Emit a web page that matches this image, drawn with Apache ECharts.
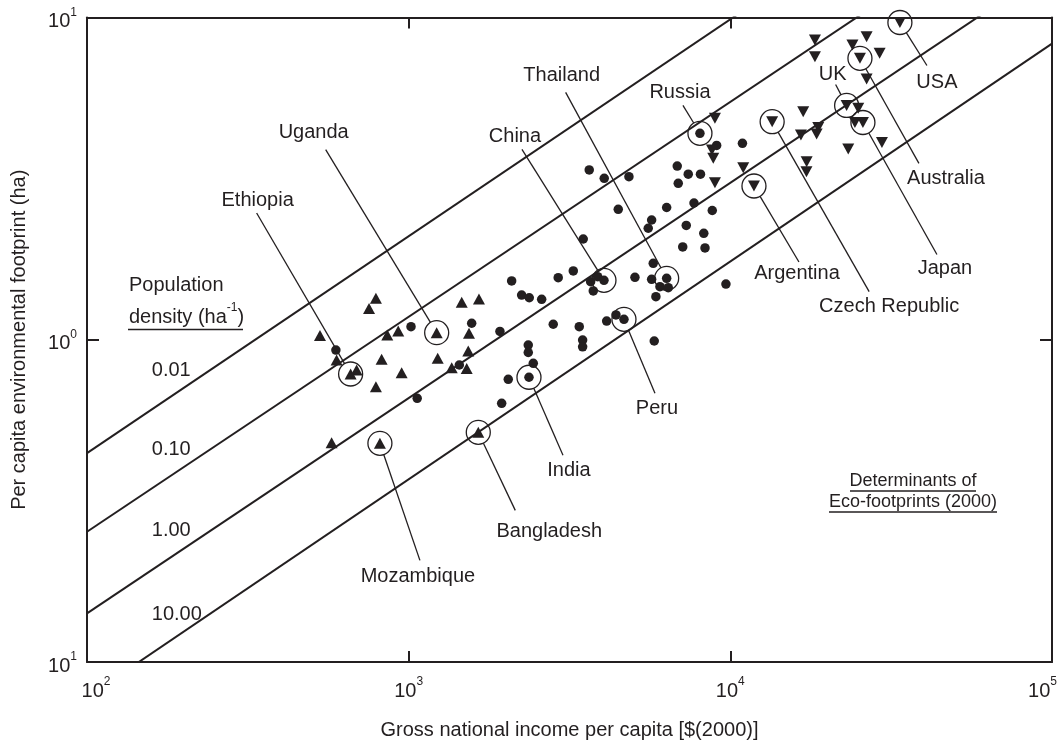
<!DOCTYPE html>
<html>
<head>
<meta charset="utf-8">
<script src="https://cdn.jsdelivr.net/npm/echarts@6/dist/echarts.min.js"></script>
<style>
  html, body { margin: 0; padding: 0; background: #ffffff; }
  #chart { width: 1063px; height: 749px; }
</style>
</head>
<body>
<div id="chart"></div>
<script>
// ---- tick labels (powers of ten, exponent printed as superscript) ----
const xTickValues = [100, 1000, 10000, 100000];
const xTickExponents = ['2', '3', '4', '5'];
const yTickValues = [0.1, 1, 10];
const yTickExponents = ['1', '0', '1'];

// ---- population-density reference lines: footprint = a * (GNI/100)^b ----
const densityLabels = ['0.01', '0.10', '1.00', '10.00'];
const densityFootprintAt100 = [0.445, 0.2536, 0.1416, 0.0778];
const densitySlopes = [0.673, 0.667, 0.668, 0.676];

// ---- countries: [GNI per capita $, footprint ha] ----
// low income (up triangles)
const lowIncome = [
  [530, 1.03], [597, 0.865], [689, 0.806], [753, 1.25], [791, 1.345], [824, 0.87],
  [791, 0.715], [858, 1.034], [928, 1.064], [951, 0.79], [1231, 0.876], [1361, 0.819],
  [1462, 1.307], [1654, 1.339], [1515, 0.815], [1532, 0.923], [1540, 1.047], [576, 0.479]
];
// middle income (dots)
const middleIncome = [
  [594, 0.929], [1017, 1.098], [1570, 1.125], [1437, 0.835], [1063, 0.658], [2090, 1.522],
  [2245, 1.376], [2371, 1.35], [2591, 1.335], [2815, 1.117], [1922, 1.061], [2354, 0.963],
  [2354, 0.913], [2440, 0.845], [2040, 0.754], [1946, 0.635], [3642, 3.364], [4055, 3.17],
  [4839, 3.206], [6838, 3.46], [7399, 3.265], [8075, 3.265], [6888, 3.059], [4483, 2.54],
  [6339, 2.573], [7709, 2.657], [8787, 2.518], [5693, 2.353], [5556, 2.218], [7294, 2.263],
  [8269, 2.14], [3489, 2.054], [7112, 1.941], [8342, 1.927], [5759, 1.727], [3249, 1.635],
  [2917, 1.558], [3679, 1.514], [3868, 1.569], [3749, 1.417], [5052, 1.562], [5693, 1.54],
  [6042, 1.461], [6412, 1.451], [5870, 1.36], [9690, 1.489], [3391, 1.098], [4126, 1.143],
  [4410, 1.194], [5800, 0.991], [3474, 0.998], [3474, 0.951], [9067, 4.008], [10905, 4.071]
];
// high income (down triangles)
const highIncome = [
  [8956, 4.867], [8767, 3.881], [8850, 3.657], [8956, 3.072], [10967, 3.42], [16848, 5.103],
  [16575, 4.32], [18763, 4.558], [18549, 4.351], [17268, 3.569], [17244, 3.323], [18323, 8.514],
  [18323, 7.556], [24981, 5.228], [24395, 4.723], [23257, 3.908], [29599, 4.094], [26526, 8.718],
  [23967, 8.216], [29113, 7.742], [26526, 6.445]
];

// named countries (circled)
const countryNames = ['Ethiopia', 'Uganda', 'Mozambique', 'Bangladesh', 'China', 'Thailand',
  'India', 'Peru', 'Russia', 'Argentina', 'Czech Republic', 'UK', 'Japan', 'Australia', 'USA'];
const countryGni = [660, 1222, 814, 1646, 4047, 6339, 2366, 4670, 8045, 11843, 13490, 22989, 25834, 25290, 33664];
const countryFootprint = [0.783, 1.052, 0.477, 0.516, 1.529, 1.551, 0.765, 1.157, 4.372, 3.0, 4.75, 5.334, 4.723, 7.47, 9.649];
const countryGroup = ['low', 'low', 'low', 'low', 'middle', 'middle', 'middle', 'middle', 'middle',
  'high', 'high', 'high', 'high', 'high', 'high'];

// ---- styling / layout ----
const INK = '#231f20';
const FONT = '"Liberation Sans", Arial, Helvetica, sans-serif';
const CALLOUT_R = 12;
// label placement relative to the circled point (pixels): text centre and leader-line end
const calloutLayout = {
  'Ethiopia':       { text: [-93, -174], line: [-94, -161] },
  'Uganda':         { text: [-123, -200], line: [-111, -183] },
  'China':          { text: [-89, -144], line: [-82, -131] },
  'Thailand':       { text: [-105, -203], line: [-101, -186] },
  'Russia':         { text: [-20, -41], line: [-17, -28] },
  'UK':             { text: [-14, -31], line: [-11, -21] },
  'USA':            { text: [37, 60], line: [27, 43] },
  'Australia':      { text: [86, 120], line: [59, 105] },
  'Japan':          { text: [82, 146], line: [74, 132] },
  'Czech Republic': { text: [117, 185], line: [97, 170] },
  'Argentina':      { text: [43, 87], line: [45, 76] },
  'Peru':           { text: [33, 89], line: [31, 74] },
  'India':          { text: [40, 93], line: [34, 78] },
  'Bangladesh':     { text: [71, 99], line: [37, 78] },
  'Mozambique':     { text: [38, 133], line: [40, 117] }
};
const densityTagGni = 159;

function groupPoints(list, group) {
  const pts = list.slice();
  countryNames.forEach((n, i) => {
    if (countryGroup[i] === group) pts.push([countryGni[i], countryFootprint[i]]);
  });
  return pts;
}
function densityValue(i, gni) {
  return densityFootprintAt100[i] * Math.pow(gni / 100, densitySlopes[i]);
}
function tickIndex(values, v) {
  return values.findIndex(t => Math.abs(Math.log10(t) - Math.log10(v)) < 1e-6);
}

const richBase = {
  b:  { fontSize: 20, lineHeight: 22, padding: [8, 0, 0, 0], fontFamily: FONT, color: INK },
  bL: { fontSize: 20, lineHeight: 22, padding: [8, 0, 0, 18], fontFamily: FONT, color: INK },
  s:  { fontSize: 12, lineHeight: 14, verticalAlign: 'top', fontFamily: FONT, color: INK },
  sR: { fontSize: 12, lineHeight: 14, verticalAlign: 'top', padding: [0, 19, 0, 0], fontFamily: FONT, color: INK }
};

const chart = echarts.init(document.getElementById('chart'), null, { renderer: 'canvas' });

const lineSeries = densityLabels.map((lab, i) => ({
  name: 'density ' + lab,
  type: 'line',
  xAxisIndex: 0, yAxisIndex: 0,
  data: [[100, densityValue(i, 100)], [100000, densityValue(i, 100000)]],
  showSymbol: false,
  symbol: 'none',
  clip: true,
  silent: true,
  lineStyle: { color: INK, width: 2, opacity: 1 },
  z: 2
}));

const tagSeries = {
  type: 'scatter',
  data: densityLabels.map((lab, i) => [densityTagGni, densityValue(i, densityTagGni), i]),
  symbolSize: 0,
  silent: true,
  itemStyle: { opacity: 1 },
  label: {
    show: true,
    position: 'inside',
    align: 'left',
    verticalAlign: 'middle',
    offset: [0, -39],
    formatter: p => densityLabels[p.value[2]],
    fontSize: 20,
    fontFamily: FONT,
    color: INK,
    opacity: 1
  },
  z: 3
};

const markerCommon = { type: 'scatter', silent: true, itemStyle: { color: INK, opacity: 1 }, z: 4 };

const option = {
  animation: false,
  backgroundColor: '#ffffff',
  grid: { left: 87, right: 11, top: 17.5, bottom: 87, containLabel: false, outerBoundsMode: 'none' },
  xAxis: [
    {
      type: 'log', logBase: 10, min: 100, max: 100000, position: 'bottom',
      name: 'Gross national income per capita [$(2000)]',
      nameLocation: 'middle', nameGap: 58,
      nameTextStyle: { fontSize: 20, fontFamily: FONT, color: INK },
      axisLine: { show: true, lineStyle: { color: INK, width: 2 } },
      axisTick: { show: true, inside: true, length: 11, lineStyle: { color: INK, width: 2 } },
      minorTick: { show: false },
      splitLine: { show: false },
      axisLabel: {
        show: true, margin: 14, showMinLabel: true, showMaxLabel: true,
        formatter: v => {
          const i = tickIndex(xTickValues, v);
          if (i < 0) return '';
          const b = i === 0 ? 'bL' : 'b';
          const s = i === xTickValues.length - 1 ? 'sR' : 's';
          return '{' + b + '|10}{' + s + '|' + xTickExponents[i] + '}';
        },
        rich: richBase
      }
    },
    {
      type: 'log', logBase: 10, min: 100, max: 100000, position: 'top',
      axisLine: { show: true, lineStyle: { color: INK, width: 2 } },
      axisTick: { show: true, inside: true, length: 11, lineStyle: { color: INK, width: 2 } },
      splitLine: { show: false },
      axisLabel: { show: false }
    }
  ],
  yAxis: [
    {
      type: 'log', logBase: 10, min: 0.1, max: 10, position: 'left',
      name: 'Per capita environmental footprint (ha)',
      nameLocation: 'middle', nameGap: 58,
      nameTextStyle: { fontSize: 20, fontFamily: FONT, color: INK },
      axisLine: { show: true, lineStyle: { color: INK, width: 2 } },
      axisTick: { show: true, inside: true, length: 12, lineStyle: { color: INK, width: 2 } },
      splitLine: { show: false },
      axisLabel: {
        show: true, margin: 10, showMinLabel: true, showMaxLabel: true,
        formatter: v => {
          const i = tickIndex(yTickValues, v);
          if (i < 0) return '';
          return '{b|10}{s|' + yTickExponents[i] + '}';
        },
        rich: richBase
      }
    },
    {
      type: 'log', logBase: 10, min: 0.1, max: 10, position: 'right',
      axisLine: { show: true, lineStyle: { color: INK, width: 2 } },
      axisTick: { show: true, inside: true, length: 12, lineStyle: { color: INK, width: 2 } },
      splitLine: { show: false },
      axisLabel: { show: false }
    }
  ],
  series: [
    ...lineSeries,
    tagSeries,
    Object.assign({}, markerCommon, { name: 'low income', data: groupPoints(lowIncome, 'low'), symbol: 'triangle', symbolSize: [12, 11] }),
    Object.assign({}, markerCommon, { name: 'middle income', data: groupPoints(middleIncome, 'middle'), symbol: 'circle', symbolSize: 9.5 }),
    Object.assign({}, markerCommon, { name: 'high income', data: groupPoints(highIncome, 'high'), symbol: 'triangle', symbolRotate: 180, symbolSize: [12, 11] }),
    {
      name: 'callouts',
      type: 'custom',
      clip: false,
      silent: true,
      z: 5,
      data: countryNames.map((n, i) => [countryGni[i], countryFootprint[i], i]),
      renderItem: (params, api) => {
        const name = countryNames[api.value(2)];
        const p = api.coord([api.value(0), api.value(1)]);
        const lay = calloutLayout[name];
        const len = Math.hypot(lay.line[0], lay.line[1]);
        const sx = p[0] + lay.line[0] / len * CALLOUT_R;
        const sy = p[1] + lay.line[1] / len * CALLOUT_R;
        return {
          type: 'group',
          children: [
            { type: 'circle', shape: { cx: p[0], cy: p[1], r: CALLOUT_R },
              style: { fill: 'none', stroke: INK, lineWidth: 1.3 } },
            { type: 'line', shape: { x1: sx, y1: sy, x2: p[0] + lay.line[0], y2: p[1] + lay.line[1] },
              style: { stroke: INK, lineWidth: 1.3 } },
            { type: 'text', x: p[0] + lay.text[0], y: p[1] + lay.text[1],
              style: { text: name, fill: INK, font: '20px ' + FONT, align: 'center', verticalAlign: 'middle' } }
          ]
        };
      }
    }
  ],
  graphic: [
    { type: 'text', x: 129, y: 285, silent: true,
      style: { text: 'Population', fill: INK, font: '20px ' + FONT, align: 'left', verticalAlign: 'middle' } },
    { type: 'text', x: 129, y: 313, silent: true,
      style: {
        text: '{t|density (ha}{s|-1}{t|)}', align: 'left', verticalAlign: 'middle',
        rich: {
          t: { fontSize: 20, lineHeight: 22, padding: [8, 0, 0, 0], fontFamily: FONT, fill: INK, color: INK },
          s: { fontSize: 12, lineHeight: 14, verticalAlign: 'top', fontFamily: FONT, fill: INK, color: INK }
        }
      } },
    { type: 'line', silent: true, shape: { x1: 128, y1: 329.5, x2: 243, y2: 329.5 }, style: { stroke: INK, lineWidth: 1.6 } },
    { type: 'text', x: 913, y: 481, silent: true,
      style: { text: 'Determinants of', fill: INK, font: '18px ' + FONT, align: 'center', verticalAlign: 'middle' } },
    { type: 'line', silent: true, shape: { x1: 850, y1: 491, x2: 976, y2: 491 }, style: { stroke: INK, lineWidth: 1.3 } },
    { type: 'text', x: 913, y: 502, silent: true,
      style: { text: 'Eco-footprints (2000)', fill: INK, font: '18px ' + FONT, align: 'center', verticalAlign: 'middle' } },
    { type: 'line', silent: true, shape: { x1: 829, y1: 512, x2: 997, y2: 512 }, style: { stroke: INK, lineWidth: 1.3 } }
  ]
};

chart.setOption(option);
</script>
</body>
</html>
